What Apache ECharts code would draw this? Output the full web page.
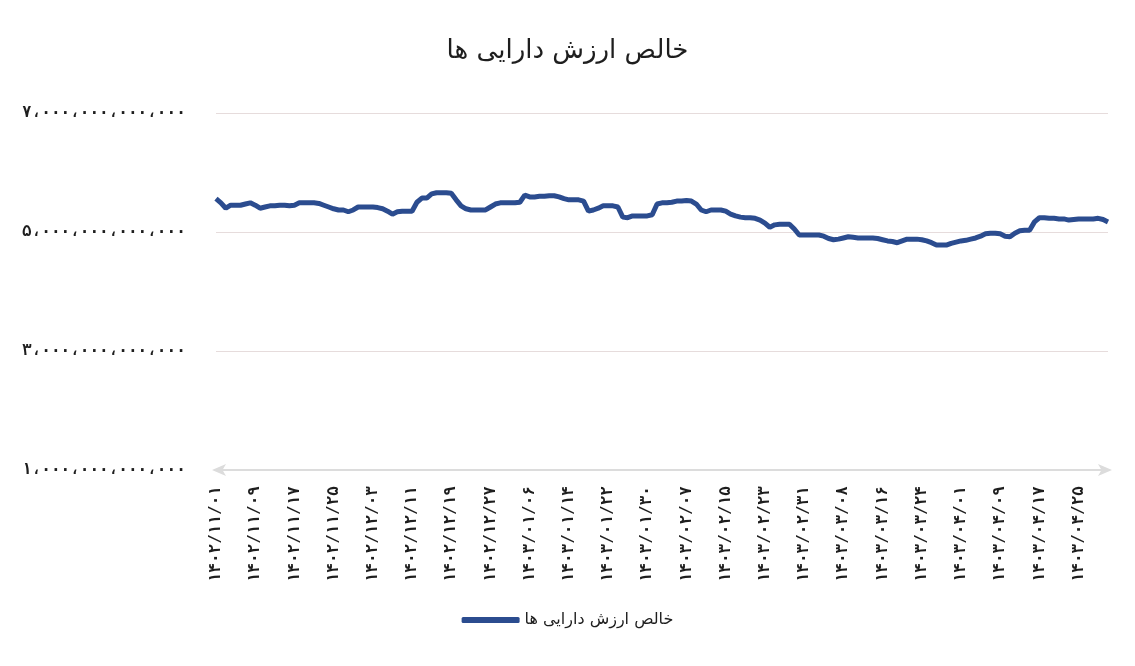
<!DOCTYPE html>
<html>
<head>
<meta charset="utf-8">
<script src="https://cdn.jsdelivr.net/npm/echarts@6/dist/echarts.min.js"></script>
<style>html,body{margin:0;padding:0;background:#fff}#c{width:1135px;height:666px}</style>
</head>
<body>
<div id="c"></div>
<script>
// Chart title & series name
const titleText = 'خالص ارزش دارایی ها';
const seriesName = 'خالص ارزش دارایی ها';

// Persian calendar months covered: [year, month, days in month]
const calendarMonths = [[1402,11,30],[1402,12,29],[1403,1,31],[1403,2,31],[1403,3,31],[1403,4,31]];

// Net asset value, in trillions (one value per day, 1402/11/01 .. 1403/04/31)
const navTrillions = [
5.56,5.49,5.40,5.45,5.45,5.45,5.47,5.49,5.45,5.40,
5.42,5.44,5.44,5.45,5.45,5.44,5.45,5.49,5.49,5.49,
5.49,5.48,5.45,5.42,5.39,5.37,5.37,5.34,5.37,5.42,
5.42,5.42,5.42,5.41,5.39,5.35,5.30,5.34,5.35,5.35,
5.35,5.50,5.57,5.57,5.64,5.66,5.66,5.66,5.65,5.54,
5.44,5.39,5.37,5.37,5.37,5.37,5.42,5.47,5.49,5.49,
5.49,5.49,5.50,5.62,5.59,5.59,5.60,5.60,5.61,5.61,
5.59,5.56,5.54,5.54,5.54,5.52,5.35,5.37,5.40,5.44,
5.44,5.44,5.42,5.25,5.24,5.27,5.27,5.27,5.27,5.29,
5.47,5.49,5.49,5.50,5.52,5.52,5.53,5.52,5.47,5.37,
5.34,5.37,5.37,5.37,5.35,5.30,5.27,5.25,5.24,5.24,
5.23,5.20,5.15,5.08,5.12,5.13,5.13,5.13,5.05,4.95,
4.95,4.95,4.95,4.95,4.93,4.89,4.87,4.88,4.90,4.92,
4.91,4.90,4.90,4.90,4.90,4.89,4.87,4.85,4.84,4.82,
4.85,4.88,4.88,4.88,4.87,4.85,4.82,4.78,4.78,4.78,
4.81,4.83,4.85,4.86,4.88,4.90,4.93,4.97,4.98,4.98,
4.97,4.93,4.92,4.98,5.02,5.03,5.03,5.17,5.24,5.24,
5.23,5.23,5.22,5.22,5.20,5.21,5.22,5.22,5.22,5.22,
5.23,5.21,5.17
];

// Y axis ticks
const yMin = 1e12, yMax = 7e12, yStep = 2e12;

const faDigits = '۰۱۲۳۴۵۶۷۸۹';
function toFa(s){ return String(s).replace(/[0-9]/g, d => faDigits[+d]); }
function pad2(n){ return n < 10 ? '0' + n : '' + n; }

const categories = [];
calendarMonths.forEach(([y, m, n]) => {
  for (let d = 1; d <= n; d++) categories.push(toFa(y + '/' + pad2(m) + '/' + pad2(d)));
});
const values = navTrillions.map(v => Math.round(v * 1e12));

function fmtY(v){
  const s = Math.round(v).toString().replace(/\B(?=(\d{3})+(?!\d))/g, '،');
  return toFa(s);
}

const chart = echarts.init(document.getElementById('c'));
chart.setOption({
  backgroundColor: '#fff',
  animation: false,
  title: {
    text: titleText, left: 'center', top: 33,
    textStyle: { fontFamily: 'DejaVu Sans', fontSize: 26, fontWeight: 'normal', color: '#1e1e1e' }
  },
  legend: {
    bottom: 33, left: 'center',
    icon: 'roundRect', itemWidth: 58, itemHeight: 6, itemGap: 10,
    textStyle: { fontFamily: 'DejaVu Sans', fontSize: 16, color: '#1e1e1e' },
    data: [seriesName]
  },
  grid: { left: 216, right: 27, top: 113, bottom: 196 },
  xAxis: {
    type: 'category', data: categories, boundaryGap: false,
    axisLine: { show: true, symbol: ['arrow', 'arrow'], symbolSize: [9, 14], symbolOffset: [-4, 4],
      lineStyle: { color: '#dcdcdc', width: 2 } },
    axisTick: { show: false },
    axisLabel: { interval: 7, rotate: 90, margin: 16,
      fontFamily: 'DejaVu Sans Mono', fontSize: 16, fontWeight: 'bold', color: '#1e1e1e' },
    splitLine: { show: false }
  },
  yAxis: {
    type: 'value', min: yMin, max: yMax, interval: yStep,
    axisLine: { show: false }, axisTick: { show: false },
    axisLabel: { formatter: fmtY, align: 'left', margin: 194,
      fontFamily: 'DejaVu Sans Mono', fontSize: 16, fontWeight: 'bold', color: '#1e1e1e' },
    splitLine: { lineStyle: { color: '#e6dcdc', width: 1 } }
  },
  series: [{
    name: seriesName, type: 'line', data: values, showSymbol: false, symbol: 'none',
    lineStyle: { color: '#2b4c8f', width: 5 }, itemStyle: { color: '#2b4c8f' }
  }]
});
</script>
</body>
</html>
